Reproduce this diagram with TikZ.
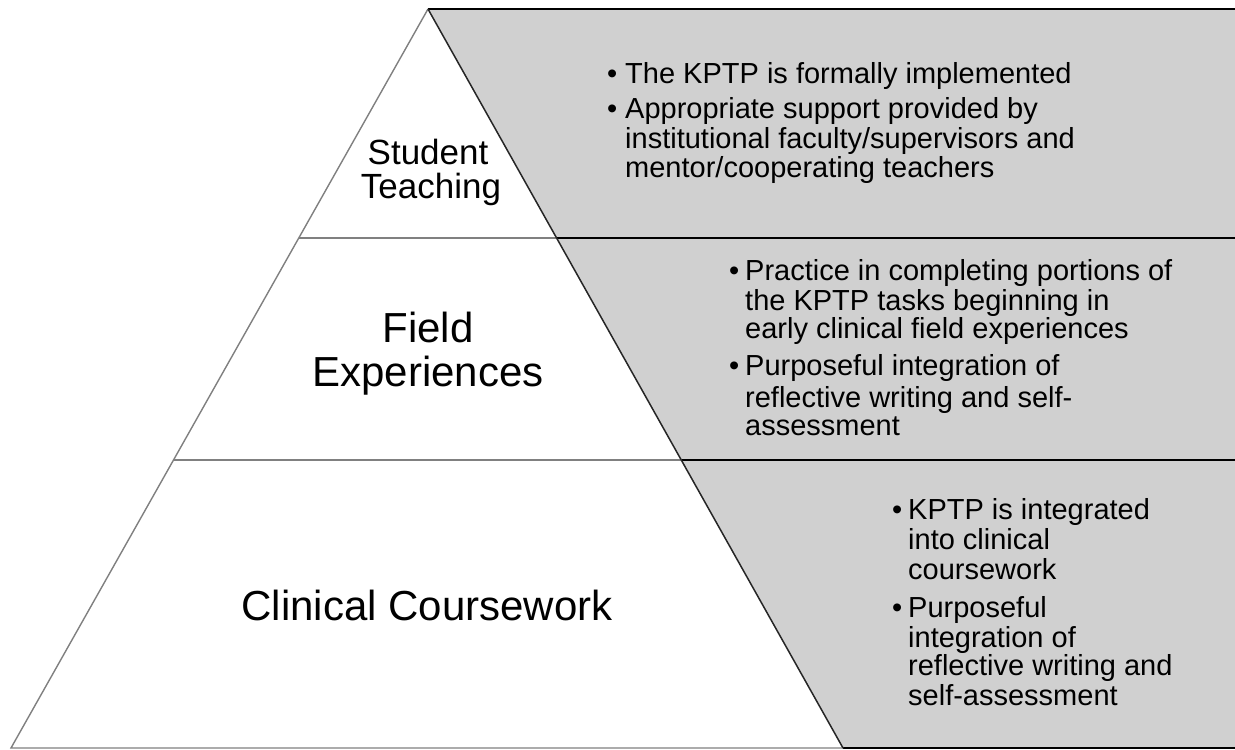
\documentclass[tikz,border=0pt]{standalone}
\usepackage{fontspec}
\setmainfont{Liberation Sans}
\begin{document}
\begin{tikzpicture}[x=1pt,y=-1pt,
  bandfill/.style={fill=bandgray},
  pyrline/.style={draw=pyrgray,line width=1.4pt},
  bandline/.style={draw=black,line width=2.6pt},
  slopeline/.style={draw=black!85,line width=1.5pt},
  tier/.style={anchor=base,inner sep=0pt,text=black},
  bl/.style={anchor=base west,inner sep=0pt,text=black,font=\fontsize{29}{32}\selectfont}]
\definecolor{bandgray}{RGB}{208,208,208}
\definecolor{pyrgray}{RGB}{128,128,128}
\useasboundingbox (0,0) rectangle (1235,750);
\fill[white] (0,0) rectangle (1235,750);

% pyramid corners and tier boundaries
\coordinate (apex) at (428,9);
\coordinate (bl) at (11,748);
\coordinate (br) at (843,748);
\coordinate (l1) at (299,238);
\coordinate (r1) at (557,238);
\coordinate (l2) at (173,460);
\coordinate (r2) at (682,460);
\coordinate (e0) at (1235,9);
\coordinate (e1) at (1235,238);
\coordinate (e2) at (1235,460);
\coordinate (e3) at (1235,748);

% grey band to the right of the pyramid
\fill[bandfill] (apex) -- (e0) -- (e3) -- (br) -- cycle;
\draw[bandline] (apex) -- (e0);
\draw[bandline] (r1) -- (e1);
\draw[bandline] (r2) -- (e2);
\draw[bandline] (br) -- (e3);

% pyramid outline and tiers
\draw[pyrline] (br) -- (bl) -- (apex);
\draw[pyrline] (l1) -- (r1);
\draw[pyrline] (l2) -- (r2);
\draw[slopeline] (apex) -- (br);

% tier labels
\node[tier,font=\fontsize{35}{38}\selectfont] (st1) at (428,164) {Student};
\node[tier,font=\fontsize{35}{38}\selectfont] (st2) at (431,198) {Teaching};
\node[tier,font=\fontsize{42}{46}\selectfont] (fe1) at (428,342) {Field};
\node[tier,font=\fontsize{42}{46}\selectfont] (fe2) at (428,386) {Experiences};
\node[tier,font=\fontsize{42}{46}\selectfont] (cc) at (427,620) {Clinical Coursework};

% top tier bullets
\node[bl] (a0) at (607,83) {\textbullet};
\node[bl] (a1) at (625,83) {The KPTP is formally implemented};
\node[bl] (b0) at (607,118) {\textbullet};
\node[bl] (b1) at (625,118) {Appropriate support provided by};
\node[bl] (b2) at (625,148) {institutional faculty/supervisors and};
\node[bl] (b3) at (625,177) {mentor/cooperating teachers};

% middle tier bullets
\node[bl] (c0) at (729,280) {\textbullet};
\node[bl] (c1) at (745,280) {Practice in completing portions of};
\node[bl] (c2) at (745,310) {the KPTP tasks beginning in};
\node[bl] (c3) at (745,338) {early clinical field experiences};
\node[bl] (d0) at (729,375) {\textbullet};
\node[bl] (d1) at (745,375) {Purposeful integration of};
\node[bl] (d2) at (745,407) {reflective writing and self-};
\node[bl] (d3) at (745,435) {assessment};

% bottom tier bullets
\node[bl] (f0) at (892,519) {\textbullet};
\node[bl] (f1) at (908,519) {KPTP is integrated};
\node[bl] (f2) at (908,549) {into clinical};
\node[bl] (f3) at (908,579) {coursework};
\node[bl] (g0) at (892,617) {\textbullet};
\node[bl] (g1) at (908,617) {Purposeful};
\node[bl] (g2) at (908,647) {integration of};
\node[bl] (g3) at (908,675) {reflective writing and};
\node[bl] (g4) at (908,705) {self-assessment};
\end{tikzpicture}
\end{document}
